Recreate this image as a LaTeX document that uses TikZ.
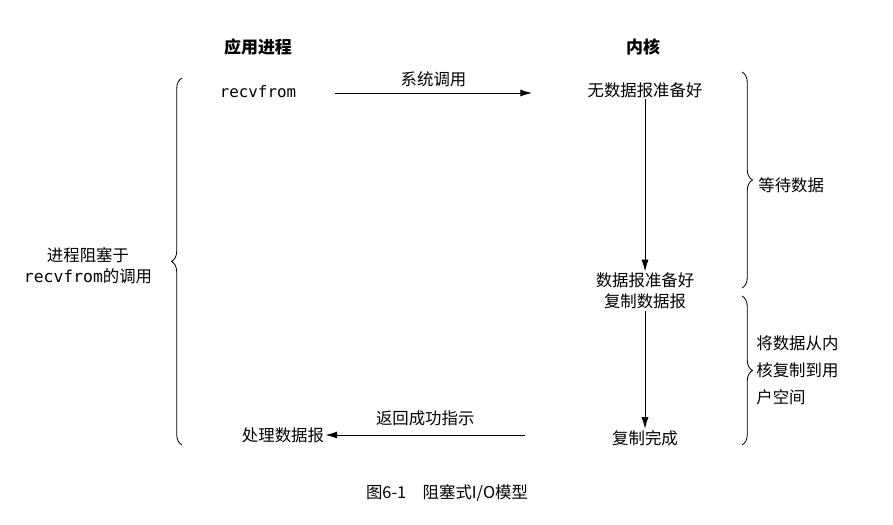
\documentclass[tikz,border=0pt]{standalone}
\usepackage{fontspec}
\setmainfont{Noto Sans CJK SC}
\setmonofont{DejaVu Sans Mono}
\usetikzlibrary{decorations.pathreplacing,arrows.meta}
\begin{document}
\begin{tikzpicture}[x=0.03cm,y=-0.03cm,
  lbl/.style={font=\fontsize{14}{18}\selectfont,align=center,inner sep=1pt},
  hd/.style={lbl,font=\fontsize{14.5}{18}\selectfont\bfseries},
  arr/.style={-{Latex[length=10pt,width=6pt]},line width=0.8pt},
  br/.style={decorate,decoration={brace,amplitude=9pt},line width=0.7pt}]
\useasboundingbox (0,0) rectangle (893,524);
\node[hd] (hA) at (258,47) {应用进程};
\node[hd] (hK) at (643,47) {内核};
\node[lbl,font=\fontsize{13.5}{18}\ttfamily] (recv) at (258,92) {recvfrom};
\node[lbl] (nd) at (645,90) {无数据报准备好};
\node[lbl] (rd) at (645,291) {数据报准备好\\复制数据报};
\node[lbl] (done) at (645,438) {复制完成};
\node[lbl] (proc) at (283,435) {处理数据报};
\coordinate (s1) at (335,93); \coordinate (e1) at (532,93);
\draw[arr] (s1) -- node[lbl,above=4pt] {系统调用} (e1);
\draw[arr] (nd) -- (rd);
\draw[arr] (rd) -- (done);
\coordinate (s2) at (525,435);
\draw[arr] (s2) -- node[lbl,above=6pt] {返回成功指示} (proc);
\coordinate (lb1) at (182,445); \coordinate (lb2) at (182,78);
\draw[br] (lb1) -- (lb2);
\node[lbl] (block) at (88,266) {进程阻塞于\\{\ttfamily recvfrom}的调用};
\coordinate (r1a) at (742,72); \coordinate (r1b) at (742,288);
\draw[br] (r1a) -- (r1b);
\node[lbl,anchor=west] (wait) at (757,185) {等待数据};
\coordinate (r2a) at (742,296); \coordinate (r2b) at (742,445);
\draw[br] (r2a) -- (r2b);
\node[lbl,anchor=west,align=left,font=\fontsize{14}{23}\selectfont] (copy) at (755,370) {将数据从内\\核复制到用\\户空间};
\node[lbl] (cap) at (447,493) {图6-1\quad 阻塞式I/O模型};
\end{tikzpicture}
\end{document}
